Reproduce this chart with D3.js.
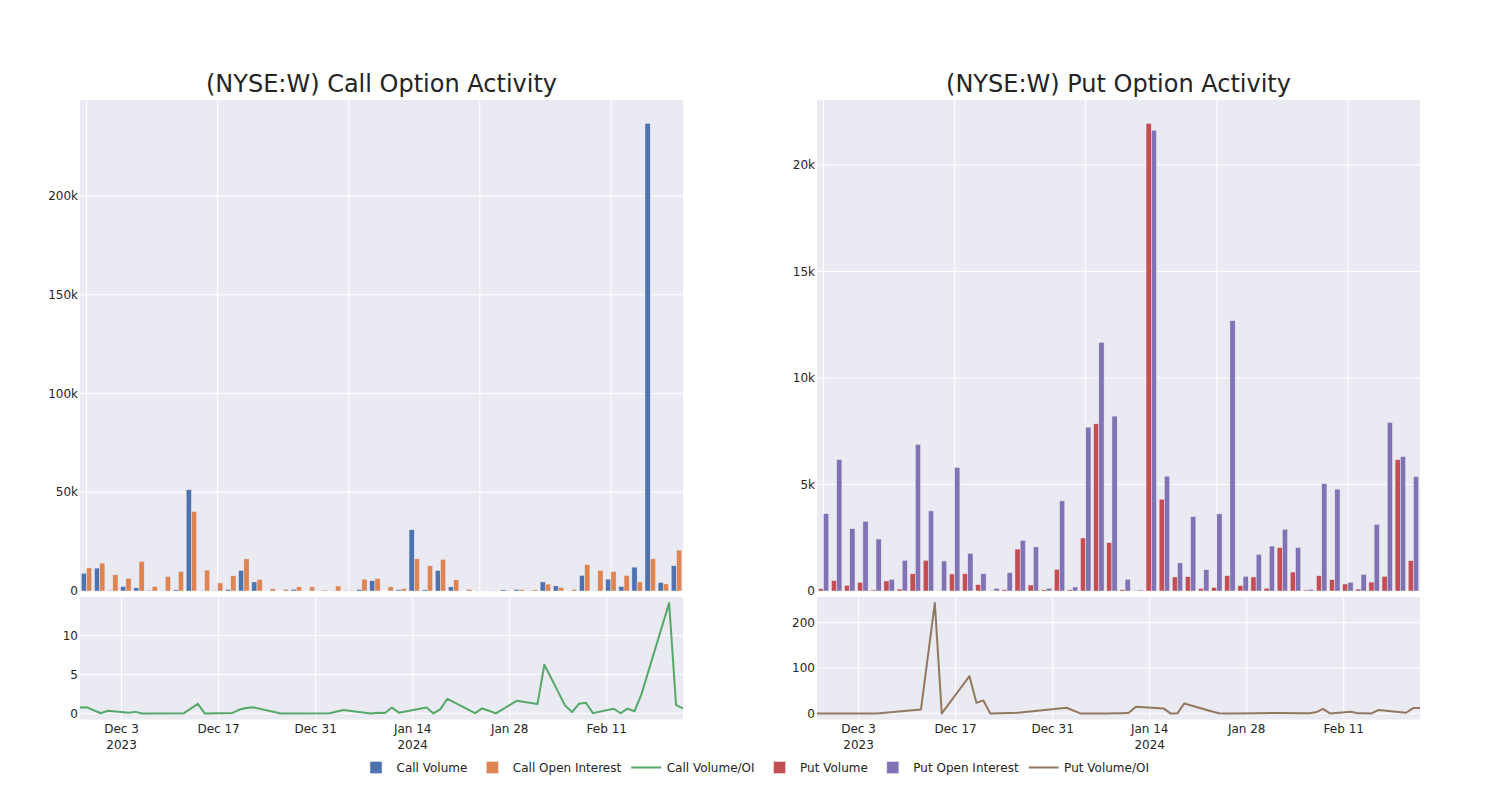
<!DOCTYPE html>
<html>
<head>
<meta charset="utf-8">
<script src="https://cdn.jsdelivr.net/npm/d3@7"></script>
<style>
  html, body { margin: 0; padding: 0; background: #ffffff; }
  svg { display: block; font-family: "DejaVu Sans", Verdana, sans-serif; }
</style>
</head>
<body>
<svg id="chart" width="1500" height="800"></svg>
<script>
// ---------------- DATA ----------------
const dates = ["2023-11-27","2023-11-28","2023-11-30","2023-12-01","2023-12-04","2023-12-05","2023-12-06","2023-12-12","2023-12-14","2023-12-15","2023-12-19","2023-12-20","2023-12-21","2023-12-22","2023-12-26","2024-01-02","2024-01-04","2024-01-08","2024-01-09","2024-01-10","2024-01-11","2024-01-12","2024-01-16","2024-01-17","2024-01-18","2024-01-19","2024-01-23","2024-01-24","2024-01-25","2024-01-26","2024-01-29","2024-02-01","2024-02-02","2024-02-05","2024-02-06","2024-02-07","2024-02-08","2024-02-09","2024-02-12","2024-02-13","2024-02-14","2024-02-15","2024-02-16","2024-02-20","2024-02-21","2024-02-22"];

const callVolume = [9000,11600,400,2300,1600,400,100,600,51300,100,200,800,10400,4600,0,0,900,0,50,130,230,800,5200,0,600,31000,600,10400,2100,0,30,100,600,800,100,4600,2600,30,7900,250,6000,2300,12100,236800,4300,12800];
const callOI = [11700,14100,8200,6500,15000,2300,7400,9900,40300,10600,4100,7700,16300,5800,1100,900,2100,2100,500,2500,300,6000,6300,2100,1300,16300,12800,16000,5700,900,20,100,100,800,600,3500,1800,900,13300,10400,9900,7900,4600,16300,3600,20700];
const callRatio = [0.77,0.78,0.02,0.34,0.08,0.2,0.0,0.03,1.22,0.0,0.07,0.5,0.7,0.78,0.0,0.03,0.43,0.0,0.1,0.05,0.77,0.1,0.77,0.0,0.55,1.88,0.03,0.64,0.35,0.0,1.62,1.2,6.24,1.0,0.17,1.24,1.37,0.04,0.6,0.02,0.62,0.28,2.44,14.15,1.07,0.64];

const putVolume = [110,490,270,410,50,470,90,810,1440,20,800,810,300,30,60,1970,280,60,1020,60,2490,7850,2270,60,30,21950,4310,660,670,130,170,720,250,660,130,2040,890,50,720,530,330,90,420,690,6170,1430];
const putOI = [3630,6170,2930,3270,2440,550,1440,6880,3760,1410,5800,1770,810,130,860,2380,2070,130,4230,190,7690,11670,8210,550,50,21630,5390,1320,3490,1000,3620,12690,690,1720,2110,2900,2040,80,5030,4780,410,780,3130,7910,6310,5370];
const putRatio = [0,0,0,0,0,0,0.3,8.8,243,0,82,23.5,28.7,0,1.5,12.5,0,0,0.3,0.5,1.5,14.7,11,0,0.2,22,4.4,0.2,0,0,0.3,0.8,0.8,0.6,0.3,2.5,10,0,3.7,0.5,0.3,0,7.4,1.5,11.8,11.8];

const dateTicks = ["2023-12-03","2023-12-17","2023-12-31","2024-01-14","2024-01-28","2024-02-11"];
const dateTickLabels = [["Dec 3","2023"],["Dec 17"],["Dec 31"],["Jan 14","2024"],["Jan 28"],["Feb 11"]];
const callBarTicks = [0, 50000, 100000, 150000, 200000];
const putBarTicks = [0, 5000, 10000, 15000, 20000];
const callRatioTicks = [0, 5, 10];
const putRatioTicks = [0, 100, 200];
const categoryGridEvery = 10;

const titles = ["(NYSE:W) Call Option Activity", "(NYSE:W) Put Option Activity"];
const legendItems = [
  {name: "Call Volume", type: "bar", color: "#4C72B0"},
  {name: "Call Open Interest", type: "bar", color: "#DD8452"},
  {name: "Call Volume/OI", type: "line", color: "#55A868"},
  {name: "Put Volume", type: "bar", color: "#C44E52"},
  {name: "Put Open Interest", type: "bar", color: "#8172B3"},
  {name: "Put Volume/OI", type: "line", color: "#937860"}
];

// ---------------- DRAW ----------------
const svg = d3.select("#chart");
const BG = "#EAEAF2", GRID = "#FFFFFF", TXT = "#242424";
const parse = d3.utcParse("%Y-%m-%d");
const dateObjs = dates.map(parse);

const topY = [100, 591];
const botY = [597, 719.5];
const fmtK = d3.format("~s");

function panel(x0, x1, vol, oi, ratio, volColor, oiColor, lineColor, barTicks, ratioTicks, title) {
  const g = svg.append("g");
  // title
  g.append("text").attr("x", (x0 + x1) / 2).attr("y", 92)
    .attr("text-anchor", "middle").attr("font-size", 24).attr("fill", TXT).text(title);

  // ---- top bar chart ----
  const xBand = d3.scaleBand().domain(dates).range([x0, x1]).paddingInner(0.2).paddingOuter(0.1);
  const xSub = d3.scaleBand().domain(["vol", "oi"]).range([0, xBand.bandwidth()]);
  const maxBar = d3.max(vol.concat(oi));
  const yBar = d3.scaleLinear().domain([0, maxBar * 1.05]).range([topY[1], topY[0]]);

  g.append("rect").attr("x", x0).attr("y", topY[0]).attr("width", x1 - x0).attr("height", topY[1] - topY[0]).attr("fill", BG);
  g.append("g").selectAll("line").data(barTicks).join("line")
    .attr("x1", x0).attr("x2", x1).attr("y1", d => yBar(d)).attr("y2", d => yBar(d))
    .attr("stroke", GRID).attr("stroke-width", 1);
  g.append("g").selectAll("line").data(dates.filter((d, i) => i % categoryGridEvery === 0)).join("line")
    .attr("x1", d => xBand(d) + xBand.bandwidth() / 2).attr("x2", d => xBand(d) + xBand.bandwidth() / 2)
    .attr("y1", topY[0]).attr("y2", topY[1]).attr("stroke", GRID).attr("stroke-width", 1);
  g.append("g").selectAll("text").data(barTicks).join("text")
    .attr("x", x0 - 2).attr("y", d => yBar(d)).attr("dy", "0.35em")
    .attr("text-anchor", "end").attr("font-size", 12).attr("fill", TXT).text(d => fmtK(d));

  const rows = dates.map((d, i) => ({d, vol: vol[i], oi: oi[i]}));
  const bars = g.append("g");
  bars.selectAll("rect.v").data(rows).join("rect").attr("class", "v")
    .attr("x", r => xBand(r.d) + xSub("vol")).attr("width", xSub.bandwidth())
    .attr("y", r => yBar(r.vol)).attr("height", r => yBar(0) - yBar(r.vol))
    .attr("fill", volColor).attr("stroke", BG).attr("stroke-width", 0.5);
  bars.selectAll("rect.o").data(rows).join("rect").attr("class", "o")
    .attr("x", r => xBand(r.d) + xSub("oi")).attr("width", xSub.bandwidth())
    .attr("y", r => yBar(r.oi)).attr("height", r => yBar(0) - yBar(r.oi))
    .attr("fill", oiColor).attr("stroke", BG).attr("stroke-width", 0.5);

  // ---- bottom line chart ----
  const xTime = d3.scaleUtc().domain(d3.extent(dateObjs)).range([x0, x1]);
  const rMin = d3.min(ratio), rMax = d3.max(ratio);
  const pad = (rMax - rMin) * 0.055;
  const yLine = d3.scaleLinear().domain([rMin - pad, rMax + pad]).range([botY[1], botY[0]]);

  g.append("rect").attr("x", x0).attr("y", botY[0]).attr("width", x1 - x0).attr("height", botY[1] - botY[0]).attr("fill", BG);
  g.append("g").selectAll("line").data(ratioTicks).join("line")
    .attr("x1", x0).attr("x2", x1).attr("y1", d => yLine(d)).attr("y2", d => yLine(d))
    .attr("stroke", GRID).attr("stroke-width", 1);
  g.append("g").selectAll("line").data(dateTicks.map(parse)).join("line")
    .attr("x1", d => xTime(d)).attr("x2", d => xTime(d))
    .attr("y1", botY[0]).attr("y2", botY[1]).attr("stroke", GRID).attr("stroke-width", 1);
  g.append("g").selectAll("text").data(ratioTicks).join("text")
    .attr("x", x0 - 2).attr("y", d => yLine(d)).attr("dy", "0.35em")
    .attr("text-anchor", "end").attr("font-size", 12).attr("fill", TXT).text(d => d3.format("~s")(d));
  const xl = g.append("g").selectAll("text").data(dateTicks).join("text")
    .attr("x", (d) => xTime(parse(d))).attr("y", 733)
    .attr("text-anchor", "middle").attr("font-size", 12).attr("fill", TXT);
  xl.each(function(d, i) {
    const t = d3.select(this);
    dateTickLabels[i].forEach((s, k) => {
      t.append("tspan").attr("x", xTime(parse(d))).attr("dy", k === 0 ? 0 : 16).text(s);
    });
  });

  const line = d3.line().x((d, i) => xTime(dateObjs[i])).y(d => yLine(d));
  g.append("path").datum(ratio).attr("d", line)
    .attr("fill", "none").attr("stroke", lineColor).attr("stroke-width", 2).attr("stroke-linejoin", "round");
}

panel(80, 683, callVolume, callOI, callRatio, "#4C72B0", "#DD8452", "#55A868", callBarTicks, callRatioTicks, titles[0]);
panel(817, 1420, putVolume, putOI, putRatio, "#C44E52", "#8172B3", "#937860", putBarTicks, putRatioTicks, titles[1]);

// ---- legend ----
const lg = svg.append("g");
let tx = 396.5;
const ly = 767.5;
legendItems.forEach(it => {
  const sc = tx - 20.5;
  if (it.type === "bar") {
    lg.append("rect").attr("x", sc - 6).attr("y", ly - 6).attr("width", 12).attr("height", 12)
      .attr("fill", it.color).attr("stroke", BG).attr("stroke-width", 0.5);
  } else {
    lg.append("line").attr("x1", sc - 15).attr("x2", sc + 15).attr("y1", ly).attr("y2", ly)
      .attr("stroke", it.color).attr("stroke-width", 2);
  }
  const t = lg.append("text").attr("x", tx).attr("y", ly).attr("dy", "0.35em")
    .attr("font-size", 12).attr("fill", TXT).text(it.name);
  tx += t.node().getComputedTextLength() + 45.5;
});
</script>
</body>
</html>
